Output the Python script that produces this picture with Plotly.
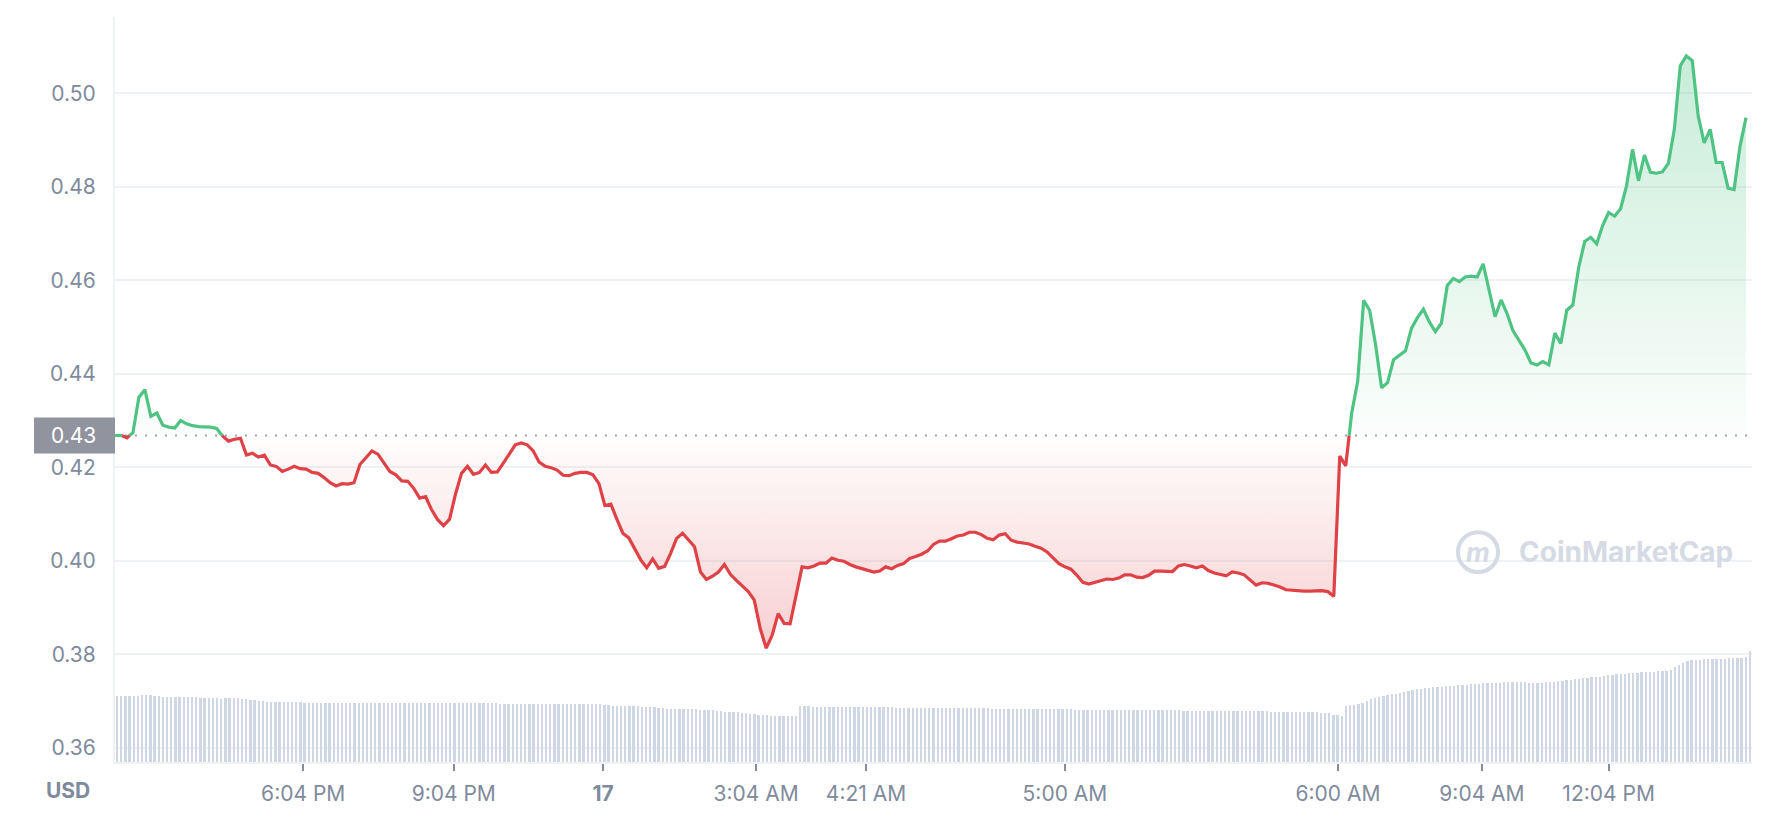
import numpy as np
import plotly.graph_objects as go

# ---------------- data ----------------
base_price = 0.4268  # 24h open (dotted reference line)

price = [
    0.4268, 0.4269, 0.4263, 0.4274, 0.4350, 0.4366, 0.4309, 0.4316, 0.4290, 0.4286,
    0.4284, 0.4300, 0.4293, 0.4289, 0.4287, 0.4286, 0.4286, 0.4283, 0.4267, 0.4256,
    0.4260, 0.4262, 0.4226, 0.4230, 0.4222, 0.4226, 0.4205, 0.4202, 0.4191, 0.4196,
    0.4202, 0.4197, 0.4196, 0.4189, 0.4187, 0.4178, 0.4167, 0.4160, 0.4165, 0.4164,
    0.4167, 0.4206, 0.4221, 0.4235, 0.4228, 0.4209, 0.4191, 0.4184, 0.4171, 0.4170,
    0.4155, 0.4134, 0.4137, 0.4109, 0.4088, 0.4075, 0.4089, 0.4143, 0.4187, 0.4202,
    0.4185, 0.4189, 0.4205, 0.4189, 0.4190, 0.4209, 0.4229, 0.4248, 0.4252, 0.4248,
    0.4235, 0.4211, 0.4202, 0.4199, 0.4194, 0.4183, 0.4182, 0.4187, 0.4189, 0.4189,
    0.4184, 0.4165, 0.4118, 0.4121, 0.4089, 0.4059, 0.4049, 0.4026, 0.4002, 0.3985,
    0.4004, 0.3984, 0.3988, 0.4016, 0.4048, 0.4059, 0.4045, 0.4030, 0.3976, 0.3960,
    0.3967, 0.3976, 0.3992, 0.3971, 0.3958, 0.3945, 0.3934, 0.3916, 0.3855, 0.3813,
    0.3841, 0.3887, 0.3866, 0.3865, 0.3923, 0.3987, 0.3985, 0.3989, 0.3995, 0.3995,
    0.4006, 0.4001, 0.3999, 0.3992, 0.3987, 0.3983, 0.3979, 0.3976, 0.3978, 0.3987,
    0.3983, 0.3990, 0.3994, 0.4005, 0.4009, 0.4014, 0.4021, 0.4035, 0.4042, 0.4042,
    0.4047, 0.4053, 0.4055, 0.4061, 0.4061, 0.4056, 0.4048, 0.4045, 0.4055, 0.4058,
    0.4044, 0.4040, 0.4038, 0.4036, 0.4031, 0.4027, 0.4019, 0.4006, 0.3994, 0.3987,
    0.3982, 0.3969, 0.3954, 0.3950, 0.3954, 0.3957, 0.3961, 0.3960, 0.3963, 0.3970,
    0.3970, 0.3965, 0.3964, 0.3969, 0.3978, 0.3978, 0.3978, 0.3977, 0.3989, 0.3992,
    0.3989, 0.3985, 0.3989, 0.3979, 0.3974, 0.3971, 0.3968, 0.3976, 0.3974, 0.3970,
    0.3958, 0.3948, 0.3953, 0.3952, 0.3948, 0.3944, 0.3938, 0.3937, 0.3935, 0.3935,
    0.3935, 0.3936, 0.3936, 0.3934, 0.3924, 0.4224, 0.4203, 0.4316, 0.4384, 0.4557,
    0.4536, 0.4462, 0.4370, 0.4381, 0.4430, 0.4440, 0.4449, 0.4497, 0.4520, 0.4538,
    0.4511, 0.4490, 0.4508, 0.4589, 0.4604, 0.4597, 0.4607, 0.4609, 0.4607, 0.4635,
    0.4575, 0.4522, 0.4558, 0.4529, 0.4492, 0.4472, 0.4451, 0.4423, 0.4419, 0.4426,
    0.4419, 0.4487, 0.4465, 0.4536, 0.4547, 0.4628, 0.4683, 0.4692, 0.4678, 0.4717,
    0.4745, 0.4737, 0.4753, 0.4802, 0.4880, 0.4813, 0.4868, 0.4831, 0.4829, 0.4832,
    0.4850, 0.4923, 0.5059, 0.5080, 0.5070, 0.4951, 0.4894, 0.4923, 0.4852, 0.4852,
    0.4797, 0.4794, 0.4887, 0.4948,
]

# 24h volume bars (millions USD, read as relative heights)
volume = [
    66, 66, 66, 66, 66, 66, 67, 67, 67, 66, 66,
    65, 65, 65, 65, 65, 65, 65, 65, 65,
    64, 64, 64, 64, 64, 63, 64, 64, 64, 64,
    63, 63, 62, 62, 61, 61,
    60, 60, 60, 60, 60, 60, 60, 60, 60,
    59, 59, 59, 59, 59, 59, 59, 59, 59, 59, 59, 59, 59, 59, 59, 59, 59, 59, 59, 59,
    59, 59, 59, 59, 59, 59, 59,
    59, 59, 59, 59, 59, 59, 59, 59, 59, 59, 59.5, 59.5, 59, 59, 59, 59, 59, 59, 59, 59,
    58.5, 58.5, 58.5, 58.5, 58.5, 58.5, 58.5, 58.5, 58.5, 58.5,
    58, 58, 58, 58, 58, 58, 58, 58, 58, 58, 58, 58, 58, 58, 58,
    57, 57, 56.5, 56.5, 56, 56, 56, 56, 56, 55.5, 55.5, 55, 55,
    54, 54, 53.5, 53.5, 53, 53, 53, 53, 53, 53, 52.5, 52.5, 52, 52, 51.5, 51.5,
    50.5, 50, 50, 50, 49.5, 49, 48.5, 48,
    47.5, 47, 47, 46.5, 46, 46.5, 46.5, 46.5, 46.5, 46.5,
    56, 56, 56, 55.5, 55.5, 55.5, 55, 55, 55, 55, 55, 55, 55, 55, 55, 55, 55, 55, 55, 55,
    55, 55, 55, 54.5, 54.5,
    54.5, 54.5, 54.5, 54.5, 54.5, 54, 54, 54, 54, 54, 54, 54, 54, 54, 54, 54, 54, 54, 54,
    54, 54, 53.5, 53.5, 53.5, 53.5, 53.5, 53.5, 53.5, 53.5, 53.5, 53.5,
    53, 53, 53, 53, 53, 53, 53, 53, 53, 53,
    52.5, 52.5, 52.5, 52.5, 52.5, 52.5, 52.5, 52.5, 52.5, 52.5,
    52, 52, 52, 52, 52, 52, 52, 52, 52, 52, 52, 52, 52, 52, 52, 52,
    51.5, 51.5, 51.5, 51.5, 51.5, 51.5, 51.5, 51.5, 51.5, 51.5, 51.5, 51.5, 51.5, 51.5, 51.5,
    51, 51, 51, 51, 51, 51, 50.5, 50.5, 50.5, 50.5, 50.5, 50.5, 50, 50, 50, 50, 50, 50,
    49, 49, 49, 47, 47, 46,
    56, 57, 57.5,
    58, 59, 61, 63, 64, 65, 66, 67, 68, 68.5, 69, 70, 71, 72,
    73, 73.5, 74, 74, 75, 75, 75.5, 76, 76, 76.5, 77, 77, 77.5,
    78, 78, 78.5, 79, 79, 79, 79.5, 79.5, 80, 80, 80, 80, 80, 80, 79.5, 79.5, 79.5, 79.5,
    80, 80, 80.5, 81,
    81.5, 82, 82.5, 83, 83.5, 84, 84.5, 85, 85, 85.5, 86,
    87, 87.5, 88, 88, 88.5, 89, 89, 89.5, 90, 90, 90.5, 90.5, 91, 91, 91.5, 92,
    96, 98, 100,
    102, 102.5, 103, 103, 103.5, 103.5, 104, 104, 104, 104, 104.5, 104.5, 105, 105, 106, 112,
]

tick_index = [31.5, 56.7, 81.7, 107.3, 125.7, 159.0, 204.7, 228.8, 250.0]
tick_text = ["6:04 PM", "9:04 PM", "<b>17</b>", "3:04 AM", "4:21 AM", "5:00 AM",
             "6:00 AM", "9:04 AM", "12:04 PM"]
y_ticks = [0.36, 0.38, 0.40, 0.42, 0.44, 0.46, 0.48, 0.50]

# ---------------- styling ----------------
GREEN = "#4fc383"
RED = "#df4246"
GREY = "#808a9d"
GRID = "#eff2f5"
FONT = "Inter, 'Noto Sans', sans-serif"
FS = 21

# plot area geometry (px)
L, R, T, B = 115, 18, 17, 52
W, H = 1770, 818
PW, PH = W - L - R, H - T - B

# ---------------- derived series (split at base price) ----------------
x = np.arange(len(price), dtype=float)
y = np.array(price, dtype=float)
xs, ys = [x[0]], [y[0]]
for i in range(1, len(y)):
    y0, y1 = y[i - 1], y[i]
    if (y0 - base_price) * (y1 - base_price) < 0:
        t = (base_price - y0) / (y1 - y0)
        xs.append(x[i - 1] + t)
        ys.append(base_price)
    xs.append(x[i])
    ys.append(y1)
xs = np.array(xs)
ys = np.array(ys)
upper = np.maximum(ys, base_price)
lower = np.minimum(ys, base_price)
green_line = np.where(ys >= base_price, ys, np.nan)
red_line = np.where(ys <= base_price, ys, np.nan)
base_arr = np.full_like(xs, base_price)

x_max = len(price)  # axis range end

fig = go.Figure()

# volume bars on overlay axes
fig.add_trace(go.Bar(
    x=np.arange(len(volume)), y=volume, xaxis="x2", yaxis="y2",
    marker=dict(color="#cfd6e4", line=dict(width=0)), width=0.55,
    hoverinfo="skip", showlegend=False,
))

# green fill (above base)
fig.add_trace(go.Scatter(x=xs, y=base_arr, mode="lines", line=dict(width=0),
                         hoverinfo="skip", showlegend=False))
fig.add_trace(go.Scatter(
    x=xs, y=upper, mode="lines", line=dict(width=0), fill="tonexty",
    fillgradient=dict(type="vertical", start=base_price, stop=max(price),
                      colorscale=[[0, "rgba(82,197,133,0.02)"], [1, "rgba(82,197,133,0.32)"]]),
    hoverinfo="skip", showlegend=False))

# red fill (below base)
fig.add_trace(go.Scatter(x=xs, y=base_arr, mode="lines", line=dict(width=0),
                         hoverinfo="skip", showlegend=False))
fig.add_trace(go.Scatter(
    x=xs, y=lower, mode="lines", line=dict(width=0), fill="tonexty",
    fillgradient=dict(type="vertical", start=min(price), stop=base_price,
                      colorscale=[[0, "rgba(224,68,72,0.26)"], [1, "rgba(224,68,72,0.01)"]]),
    hoverinfo="skip", showlegend=False))

# dotted base line
fig.add_trace(go.Scatter(x=[0, x_max], y=[base_price, base_price], mode="lines",
                         line=dict(color="#9da3ae", width=2, dash="2px,8px"),
                         hoverinfo="skip", showlegend=False))

# price lines
fig.add_trace(go.Scatter(x=xs, y=red_line, mode="lines",
                         line=dict(color=RED, width=3.2), connectgaps=False,
                         hoverinfo="skip", showlegend=False))
fig.add_trace(go.Scatter(x=xs, y=green_line, mode="lines",
                         line=dict(color=GREEN, width=3.2), connectgaps=False,
                         hoverinfo="skip", showlegend=False))

y_lo = 0.44 - (H - B - 375.7) / 4700
y_hi = 0.44 + (375.7 - T) / 4700

fig.update_layout(
    width=W, height=H,
    margin=dict(l=L, r=R, t=T, b=B, pad=0),
    paper_bgcolor="white", plot_bgcolor="white",
    showlegend=False, hovermode=False, bargap=0,
    font=dict(family=FONT, size=FS, color=GREY),
    xaxis=dict(
        range=[0, x_max], tickmode="array", tickvals=tick_index, ticktext=tick_text,
        showgrid=False, zeroline=False, showline=True, linecolor=GRID, linewidth=2,
        ticks="outside", ticklen=7, tickwidth=2, tickcolor="#858ca0",
        tickfont=dict(family=FONT, size=FS, color=GREY), ticklabelstandoff=5,
    ),
    yaxis=dict(
        range=[y_lo, y_hi], tickmode="array", tickvals=y_ticks, tickformat=".2f",
        showgrid=True, gridcolor=GRID, gridwidth=2, zeroline=False,
        showline=True, linecolor=GRID, linewidth=2, ticks="",
        tickfont=dict(family=FONT, size=FS, color=GREY), ticklabelstandoff=13,
    ),
    xaxis2=dict(overlaying="x", range=[-0.5, len(volume) - 0.5], visible=False),
    yaxis2=dict(overlaying="y", range=[0, PH], visible=False),
)

# base price tag on the y axis
fig.add_shape(type="rect", xref="paper", yref="y",
              x0=-(L - 34) / PW, x1=0, ysizemode="pixel", yanchor=base_price,
              y0=-18, y1=18, fillcolor="#91949e", line=dict(width=0), layer="above")
fig.add_annotation(xref="paper", yref="y", x=0, y=base_price, xanchor="right",
                   yanchor="middle", xshift=-17, showarrow=False,
                   text=f"{base_price:.2f}", font=dict(family=FONT, size=FS, color="white"))

# currency label
fig.add_annotation(xref="paper", yref="paper", x=(68 - L) / PW, y=-(795 - (H - B)) / PH,
                   xanchor="center", yanchor="middle", showarrow=False,
                   text="<b>USD</b>", font=dict(family=FONT, size=FS, color=GREY))

# watermark
wm_y = (H - B - 555) / PH
fig.add_shape(type="circle", xref="paper", yref="paper",
              xsizemode="pixel", ysizemode="pixel",
              xanchor=(1478 - L) / PW, yanchor=wm_y, x0=-20, x1=20, y0=-20, y1=20,
              line=dict(color="#d5dae4", width=4), layer="above")
fig.add_annotation(xref="paper", yref="paper", x=(1478 - L) / PW, y=wm_y,
                   xanchor="center", yanchor="middle", showarrow=False,
                   text="<b><i>m</i></b>", font=dict(family=FONT, size=26, color="#d5dae4"))
fig.add_annotation(xref="paper", yref="paper", x=(1517 - L) / PW, y=wm_y,
                   xanchor="left", yanchor="middle", showarrow=False,
                   text="<b>CoinMarketCap</b>", font=dict(family=FONT, size=28, color="#d5dae4"))

fig.write_html("out.html", config={"displayModeBar": False},
               post_script="document.body.style.margin='0';document.body.style.overflow='hidden';")
